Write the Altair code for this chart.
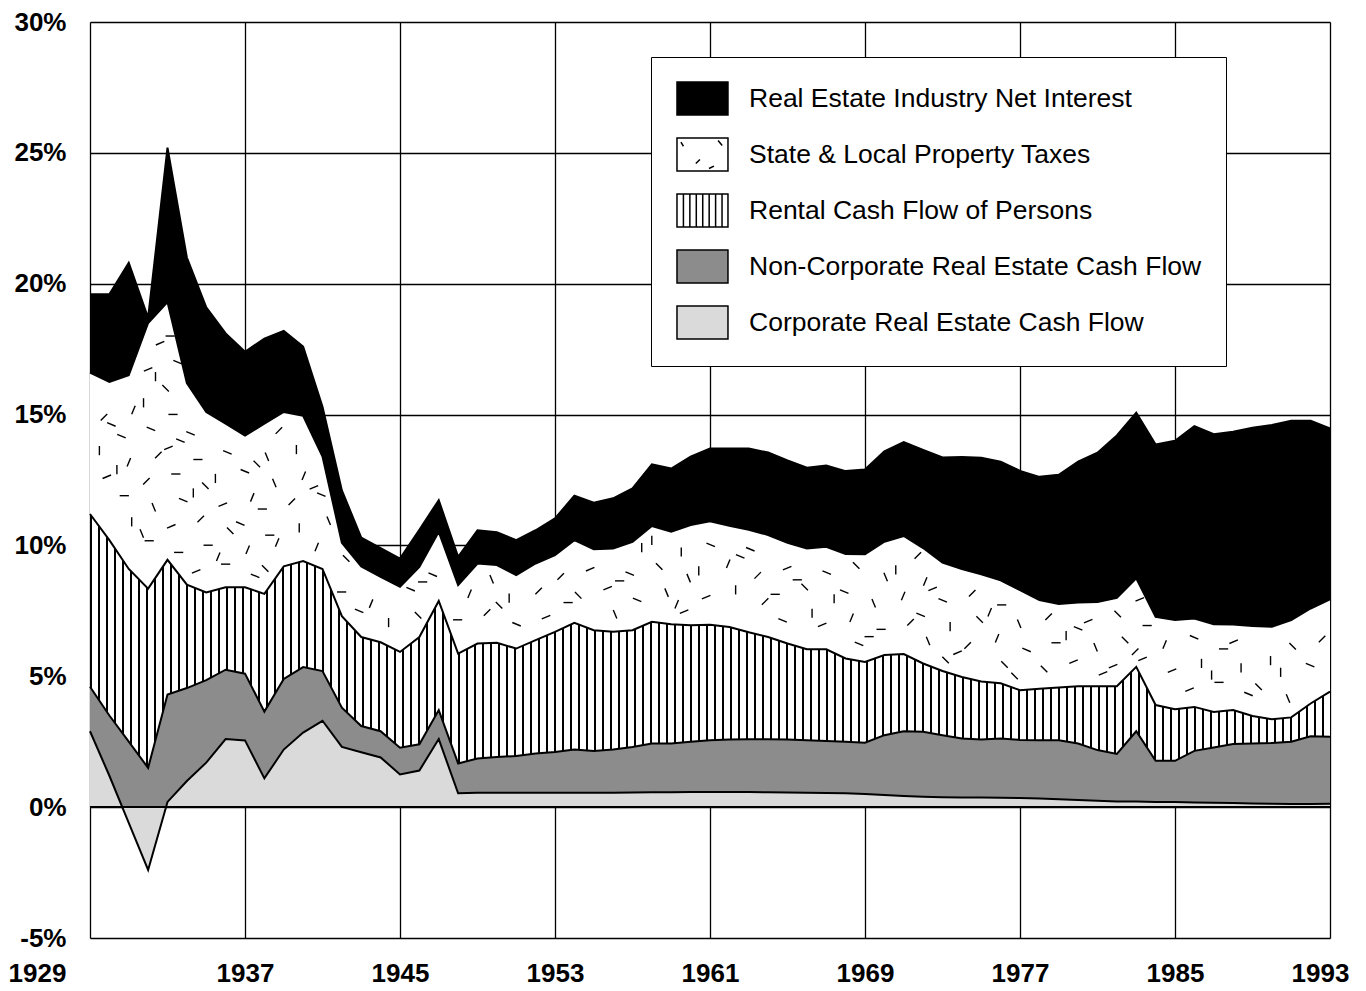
import altair as alt
import pandas as pd
import numpy as np

years = list(range(1929, 1994))

series_names = [
    "Real Estate Industry Net Interest",
    "State & Local Property Taxes",
    "Rental Cash Flow of Persons",
    "Non-Corporate Real Estate Cash Flow",
    "Corporate Real Estate Cash Flow",
]

corporate = [2.9, 1.2, -0.6, -2.4, 0.2, 1.0, 1.7, 2.6, 2.55, 1.1,
             2.2, 2.85, 3.3, 2.3, 2.1, 1.9, 1.25, 1.4, 2.6, 0.53,
             0.55, 0.55, 0.55, 0.55, 0.55, 0.55, 0.55, 0.55, 0.56, 0.57,
             0.57, 0.58, 0.58, 0.58, 0.58, 0.57, 0.56, 0.55, 0.54, 0.53,
             0.5, 0.46, 0.43, 0.4, 0.38, 0.37, 0.37, 0.36, 0.35, 0.33,
             0.3, 0.27, 0.24, 0.22, 0.22, 0.2, 0.2, 0.18, 0.17, 0.16,
             0.14, 0.13, 0.12, 0.12, 0.13]
noncorporate = [1.7, 2.3, 3.1, 3.9, 4.1, 3.55, 3.15, 2.65, 2.55, 2.55,
                2.7, 2.5, 1.9, 1.5, 1.0, 1.0, 1.02, 1.0, 1.11, 1.14,
                1.31, 1.37, 1.4, 1.5, 1.56, 1.65, 1.6, 1.65, 1.74, 1.86,
                1.86, 1.92, 1.98, 2.0, 2.01, 2.02, 2.02, 2.01, 1.99, 1.97,
                1.96, 2.29, 2.47, 2.48, 2.37, 2.25, 2.21, 2.26, 2.22, 2.23,
                2.26, 2.16, 1.94, 1.81, 2.68, 1.57, 1.57, 1.97, 2.11, 2.25,
                2.29, 2.32, 2.38, 2.59, 2.56]
rental = [6.6, 6.7, 6.6, 6.85, 5.15, 3.95, 3.35, 3.15, 3.3, 4.5,
          4.3, 4.05, 3.9, 3.5, 3.4, 3.4, 3.66, 4.1, 4.17, 4.2,
          4.39, 4.36, 4.11, 4.33, 4.59, 4.84, 4.61, 4.5, 4.46, 4.65,
          4.56, 4.45, 4.41, 4.3, 4.09, 3.91, 3.67, 3.47, 3.5, 3.18,
          3.09, 3.06, 2.95, 2.61, 2.45, 2.35, 2.22, 2.11, 1.9, 1.96,
          2.01, 2.19, 2.44, 2.59, 2.46, 2.13, 1.97, 1.68, 1.36, 1.3,
          1.05, 0.91, 0.93, 1.25, 1.72]
taxes = [5.4, 6.05, 7.4, 10.15, 9.85, 7.7, 6.9, 6.25, 5.8, 6.5,
         5.9, 5.55, 4.3, 2.8, 2.7, 2.5, 2.49, 2.68, 2.64, 2.61,
         3.06, 2.97, 2.81, 2.93, 2.93, 3.16, 3.09, 3.18, 3.38, 3.66,
         3.53, 3.83, 3.95, 3.87, 3.92, 3.9, 3.85, 3.85, 3.92, 3.99,
         4.11, 4.33, 4.51, 4.41, 4.14, 4.13, 4.1, 3.94, 3.82, 3.39,
         3.19, 3.2, 3.22, 3.38, 3.38, 3.37, 3.41, 3.38, 3.35, 3.27,
         3.44, 3.53, 3.72, 3.63, 3.53]
interest = [3.0, 3.35, 4.3, 0.2, 5.9, 4.8, 4.0, 3.45, 3.2, 3.25,
            3.1, 2.65, 1.9, 2.0, 1.1, 1.1, 1.08, 1.42, 1.21, 1.08,
            1.27, 1.25, 1.33, 1.27, 1.4, 1.7, 1.78, 1.92, 2.04, 2.36,
            2.42, 2.61, 2.78, 2.95, 3.1, 3.15, 3.15, 3.09, 3.1, 3.17,
            3.24, 3.46, 3.59, 3.75, 4.02, 4.28, 4.45, 4.53, 4.56, 4.71,
            4.94, 5.38, 5.7, 6.2, 6.33, 6.59, 6.85, 7.35, 7.26, 7.36,
            7.58, 7.71, 7.61, 7.17, 6.53]

y_ticks = [-5, 0, 5, 10, 15, 20, 25, 30]
x_ticks = [1929, 1937, 1945, 1953, 1961, 1969, 1977, 1985, 1993]

# ---- build the cumulative (stacked) table ----
stack_order = [
    ("Corporate Real Estate Cash Flow", corporate),
    ("Non-Corporate Real Estate Cash Flow", noncorporate),
    ("Rental Cash Flow of Persons", rental),
    ("State & Local Property Taxes", taxes),
    ("Real Estate Industry Net Interest", interest),
]
rows = []
for i, yr in enumerate(years):
    running = 0.0
    for name, vals in stack_order:
        running += vals[i]
        rows.append({"year": yr, "series": name, "value": vals[i], "cum": round(running, 4)})
df = pd.DataFrame(rows)

# ---- fill texture for the property-tax band (short dashes, fixed layout) ----
c3 = df[df.series == "Rental Cash Flow of Persons"]["cum"].to_numpy()
c4 = df[df.series == "State & Local Property Taxes"]["cum"].to_numpy()
PX_YEAR = 1240 / 64.0
PX_PCT = 916 / 35.0
HALF_LEN = 4.6
xstep, ystep = 1.25, 0.9
dash_rows = []
for i in range(int(64 / xstep) + 2):
    for j in range(int(35 / ystep) + 2):
        jx = ((j * 0.618 + i * 0.271) % 1.0)
        jy = ((i * 0.382 + j * 0.137) % 1.0)
        xc = 1929 + (i + jx * 0.8 + 0.1) * xstep
        yc = -5 + (j + jy * 0.8 + 0.1) * ystep
        if xc < 1929.35 or xc > 1992.65:
            continue
        lo = float(np.interp(xc, years, c3))
        hi = float(np.interp(xc, years, c4))
        if yc - lo < 0.45 or hi - yc < 0.4:
            continue
        k = (i * 7 + j * 11 + (i * j) % 5) % 8
        ang = k * np.pi / 8
        dx = HALF_LEN * np.cos(ang) / PX_YEAR
        dy = HALF_LEN * np.sin(ang) / PX_PCT
        dash_rows.append({"dx1": xc - dx, "dx2": xc + dx, "dy1": yc - dy, "dy2": yc + dy})
dash_df = pd.DataFrame(dash_rows)

# ---- styles ----
FONT = "Liberation Sans"
stripe_n = 155
stripe_frac = 0.22
stops = []
for k in range(stripe_n):
    a = k / stripe_n
    b = (k + stripe_frac) / stripe_n
    c = (k + 1) / stripe_n
    stops += [
        alt.GradientStop(offset=round(a, 6), color="black"),
        alt.GradientStop(offset=round(b, 6), color="black"),
        alt.GradientStop(offset=round(b, 6), color="white"),
        alt.GradientStop(offset=round(c, 6), color="white"),
    ]
stripes = alt.LinearGradient(gradient="linear", stops=stops, x1=0, x2=1, y1=0, y2=0)

fills = {
    "Real Estate Industry Net Interest": "black",
    "State & Local Property Taxes": "white",
    "Rental Cash Flow of Persons": stripes,
    "Non-Corporate Real Estate Cash Flow": "#8c8c8c",
    "Corporate Real Estate Cash Flow": "#dadada",
}

box = "M-0.94,-1H2.15V1H-0.94Z"
shape_paths = [
    box,
    box + " M1.55,-0.85L1.8,-0.55 M0.2,0.55L0.45,0.3 M-0.7,-0.75L-0.55,-0.5 M1.0,0.85L1.3,0.7",
    box + " M-0.55,-1V1 M-0.16,-1V1 M0.23,-1V1 M0.62,-1V1 M1.01,-1V1 M1.4,-1V1 M1.79,-1V1",
    box,
    box,
]
legend_fill = ["black", "white", "white", "#8c8c8c", "#dadada"]

x_scale = alt.Scale(domain=[1929, 1993], nice=False, zero=False)
x_axis = alt.Axis(
    values=x_ticks, format="d", title=None, labelFlush=False,
    labelFont=FONT, labelFontSize=26, labelFontWeight="bold", labelColor="black",
    labelPadding=22, ticks=False, domain=False,
    grid=True, gridColor="black", gridWidth=1.3, gridOpacity=1,
    labelOffset={"condition": [{"test": "datum.value == 1929", "value": -53},
                               {"test": "datum.value == 1993", "value": -10}],
                 "value": 0},
)
y_scale = alt.Scale(domain=[-5, 30], nice=False, zero=False)
y_axis = alt.Axis(
    values=y_ticks, title=None, labelExpr="datum.value + '%'",
    labelFont=FONT, labelFontSize=26, labelFontWeight="bold", labelColor="black",
    labelPadding=24, ticks=False, domain=False,
    grid=True, gridColor="black", gridWidth=1.3, gridOpacity=1,
)

legend = alt.Legend(
    title=None, orient="none", legendX=561, legendY=35, direction="vertical",
    fillColor="white", strokeColor="black", padding=24, rowPadding=17,
    symbolSize=1089, symbolStrokeColor="black", symbolStrokeWidth=1.5,
    labelFont=FONT, labelFontSize=26.5, labelColor="black", labelOffset=39, labelLimit=700,
)

# legend anchors (hidden underneath the black area)
legend_df = pd.DataFrame({"series": series_names, "year": 1961, "value": 12.0})
legend_layer = alt.Chart(legend_df).mark_point(
    filled=True, size=1089, strokeWidth=1.5, opacity=1
).encode(
    x=alt.X("year:Q", scale=x_scale, axis=x_axis),
    y=alt.Y("value:Q", scale=y_scale, axis=y_axis),
    fill=alt.Fill("series:N", scale=alt.Scale(domain=series_names, range=legend_fill), legend=legend),
    shape=alt.Shape("series:N", scale=alt.Scale(domain=series_names, range=shape_paths), legend=legend),
    stroke=alt.Stroke("series:N", scale=alt.Scale(domain=series_names, range=["black"] * 5), legend=legend),
)

layers = [legend_layer]
for name in series_names:
    layer = alt.Chart(df).transform_filter(
        alt.datum.series == name
    ).mark_area(
        fill=fills[name], opacity=1, interpolate="linear",
        line=alt.OverlayMarkDef(color="black", strokeWidth=2),
    ).encode(
        x=alt.X("year:Q", scale=x_scale, axis=x_axis),
        y=alt.Y("cum:Q", scale=y_scale, axis=y_axis),
        y2=alt.datum(0),
    )
    layers.append(layer)
    if name == "State & Local Property Taxes":
        dashes = alt.Chart(dash_df).mark_rule(color="black", strokeWidth=1.4).encode(
            x=alt.X("dx1:Q", scale=x_scale, axis=x_axis),
            x2="dx2:Q",
            y=alt.Y("dy1:Q", scale=y_scale, axis=y_axis),
            y2="dy2:Q",
        )
        layers.append(dashes)

zero_rule = alt.Chart(df).mark_rule(color="black", strokeWidth=1.5).encode(y=alt.datum(0))
layers.append(zero_rule)

chart = alt.layer(*layers).properties(
    width=1240, height=916,
    autosize=alt.AutoSizeParams(type="none"),
    padding={"left": 82, "top": 14, "right": 28, "bottom": 52},
).configure_view(
    stroke="black", strokeWidth=2
).configure(background="white")

chart.save("out.html", embed_options={"renderer": "svg", "actions": False})
